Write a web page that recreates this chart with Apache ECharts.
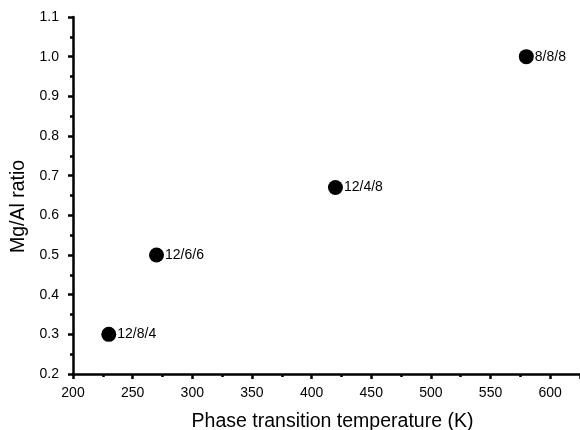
<!DOCTYPE html>
<html>
<head>
<meta charset="utf-8">
<script src="https://cdn.jsdelivr.net/npm/echarts@6/dist/echarts.min.js"></script>
<style>
  html, body { margin: 0; padding: 0; background: #fff; }
  #chart { width: 580px; height: 430px; }
</style>
</head>
<body>
<div id="chart"></div>
<script>
// data
const temps = [230, 270, 420, 580];          // K
const ratios = [0.30, 0.50, 0.67, 1.00];     // Mg/Al
const names = ['12/8/4', '12/6/6', '12/4/8', '8/8/8'];

const points = temps.map((t, i) => [t, ratios[i], names[i]]);

const font = 'Liberation Sans, Arial, sans-serif';
const axisStyle = { color: '#000', width: 2.5 };

let options = {
    backgroundColor: '#fff',
    animation: false,
    grid: {
        left: 73,
        right: 0,
        top: 17,
        bottom: 56,
        containLabel: false,
        outerBoundsMode: 'none'
    },
    xAxis: {
        type: 'value',
        min: 200,
        max: 625,
        interval: 50,
        name: 'Phase transition temperature (K)',
        nameLocation: 'middle',
        nameGap: 38,
        nameTextStyle: { fontFamily: font, fontSize: 19.5, color: '#000', padding: [0, 0, 0, 12] },
        axisLine: { onZero: false, lineStyle: axisStyle },
        axisTick: { length: 5, lineStyle: axisStyle },
        minorTick: { show: true, splitNumber: 2, length: 3, lineStyle: axisStyle },
        axisLabel: {
            fontFamily: font, fontSize: 14, color: '#000', margin: 12,
            formatter: v => (v % 50 === 0 && v <= 600) ? String(v) : ''
        },
        splitLine: { show: false }
    },
    yAxis: {
        type: 'value',
        min: 0.2,
        max: 1.1,
        interval: 0.1,
        name: 'Mg/Al ratio',
        nameLocation: 'middle',
        nameGap: 36,
        nameTextStyle: { fontFamily: font, fontSize: 19.5, color: '#000', padding: [0, 22, 0, 0] },
        axisLine: { onZero: false, lineStyle: axisStyle },
        axisTick: { length: 5, lineStyle: axisStyle },
        minorTick: { show: true, splitNumber: 2, length: 3, lineStyle: axisStyle },
        axisLabel: {
            fontFamily: font, fontSize: 14, color: '#000', margin: 14,
            formatter: v => v.toFixed(1)
        },
        splitLine: { show: false }
    },
    series: [
        {
            type: 'scatter',
            symbol: 'circle',
            symbolSize: 15,
            itemStyle: { color: '#000', opacity: 1 },
            label: {
                show: true,
                position: 'right',
                distance: 1,
                fontFamily: font,
                fontSize: 14,
                color: '#000',
                formatter: p => p.data[2]
            },
            data: points
        }
    ]
};

let chart = echarts.init(document.getElementById('chart'));
chart.setOption(options);
</script>
</body>
</html>
